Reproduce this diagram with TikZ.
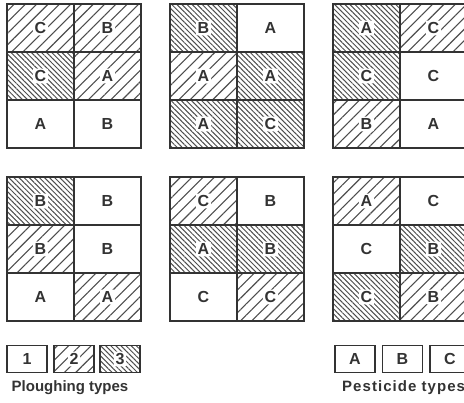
\documentclass[tikz,border=0pt]{standalone}
\usepackage{fontspec}
\setsansfont{Liberation Sans}
\newfontfamily\spacedsans[LetterSpace=7]{Liberation Sans}
\usetikzlibrary{patterns.meta}
\definecolor{PInk}{HTML}{333333}
\definecolor{PHatch}{HTML}{4D4D4D}

\begin{document}
\begin{tikzpicture}[x=1pt,y=-1pt,
  cell/.style={draw=PInk,line width=1.6pt,minimum width=67pt,minimum height=48pt,
    inner sep=0pt,outer sep=0pt},
  key/.style={cell,minimum width=40pt,minimum height=27pt,
    font=\sffamily\bfseries\fontsize{16}{16}\selectfont,text=PInk},
  h2/.style={pattern={Lines[angle=45,distance=8pt,line width=1.1pt]},pattern color=PHatch},
  h3/.style={pattern={Lines[angle=-45,distance=3.6pt,line width=1pt]},pattern color=PHatch},
  lab/.style={fill=white,inner sep=1.8pt,rounded corners=1pt,
    font=\sffamily\bfseries\fontsize{16}{16}\selectfont,text=PInk},
  legtext/.style={font=\sffamily\bfseries\fontsize{15}{15}\selectfont,text=PInk,inner sep=0pt}
]
  \useasboundingbox (0,0) rectangle (464,403);
  \clip (0,0) rectangle (464,403);
  % field 1
  \node[cell,h2,label={[lab]center:C}] (f1-11) at (40.5,28) {};
  \node[cell,h2,label={[lab]center:B}] (f1-12) at (107.5,28) {};
  \node[cell,h3,label={[lab]center:C}] (f1-21) at (40.5,76) {};
  \node[cell,h2,label={[lab]center:A}] (f1-22) at (107.5,76) {};
  \node[cell,label={[lab]center:A}] (f1-31) at (40.5,124) {};
  \node[cell,label={[lab]center:B}] (f1-32) at (107.5,124) {};
  % field 2
  \node[cell,h3,label={[lab]center:B}] (f2-11) at (203.5,28) {};
  \node[cell,label={[lab]center:A}] (f2-12) at (270.5,28) {};
  \node[cell,h2,label={[lab]center:A}] (f2-21) at (203.5,76) {};
  \node[cell,h3,label={[lab]center:A}] (f2-22) at (270.5,76) {};
  \node[cell,h3,label={[lab]center:A}] (f2-31) at (203.5,124) {};
  \node[cell,h3,label={[lab]center:C}] (f2-32) at (270.5,124) {};
  % field 3
  \node[cell,h3,label={[lab]center:A}] (f3-11) at (366.5,28) {};
  \node[cell,h2,label={[lab]center:C}] (f3-12) at (433.5,28) {};
  \node[cell,h3,label={[lab]center:C}] (f3-21) at (366.5,76) {};
  \node[cell,label={[lab]center:C}] (f3-22) at (433.5,76) {};
  \node[cell,h2,label={[lab]center:B}] (f3-31) at (366.5,124) {};
  \node[cell,label={[lab]center:A}] (f3-32) at (433.5,124) {};
  % field 4
  \node[cell,h3,label={[lab]center:B}] (f4-11) at (40.5,201) {};
  \node[cell,label={[lab]center:B}] (f4-12) at (107.5,201) {};
  \node[cell,h2,label={[lab]center:B}] (f4-21) at (40.5,249) {};
  \node[cell,label={[lab]center:B}] (f4-22) at (107.5,249) {};
  \node[cell,label={[lab]center:A}] (f4-31) at (40.5,297) {};
  \node[cell,h2,label={[lab]center:A}] (f4-32) at (107.5,297) {};
  % field 5
  \node[cell,h2,label={[lab]center:C}] (f5-11) at (203.5,201) {};
  \node[cell,label={[lab]center:B}] (f5-12) at (270.5,201) {};
  \node[cell,h3,label={[lab]center:A}] (f5-21) at (203.5,249) {};
  \node[cell,h3,label={[lab]center:B}] (f5-22) at (270.5,249) {};
  \node[cell,label={[lab]center:C}] (f5-31) at (203.5,297) {};
  \node[cell,h2,label={[lab]center:C}] (f5-32) at (270.5,297) {};
  % field 6
  \node[cell,h2,label={[lab]center:A}] (f6-11) at (366.5,201) {};
  \node[cell,label={[lab]center:C}] (f6-12) at (433.5,201) {};
  \node[cell,label={[lab]center:C}] (f6-21) at (366.5,249) {};
  \node[cell,h3,label={[lab]center:B}] (f6-22) at (433.5,249) {};
  \node[cell,h3,label={[lab]center:C}] (f6-31) at (366.5,297) {};
  \node[cell,h2,label={[lab]center:B}] (f6-32) at (433.5,297) {};
  % legends
  \node[key,label={[lab]center:1}] (k1) at (27,359) {};
  \node[key,h2,label={[lab]center:2}] (k2) at (74,359) {};
  \node[key,h3,label={[lab]center:3}] (k3) at (120,359) {};
  \node[legtext] (kp) at (70,388) {Ploughing types};
  \node[key] (ka) at (355,359) {A};
  \node[key] (kb) at (402.5,359) {B};
  \node[key] (kc) at (450,359) {C};
  \node[legtext,anchor=west] (kq) at (342,388) {\spacedsans\bfseries Pesticide types};
\end{tikzpicture}
\end{document}
